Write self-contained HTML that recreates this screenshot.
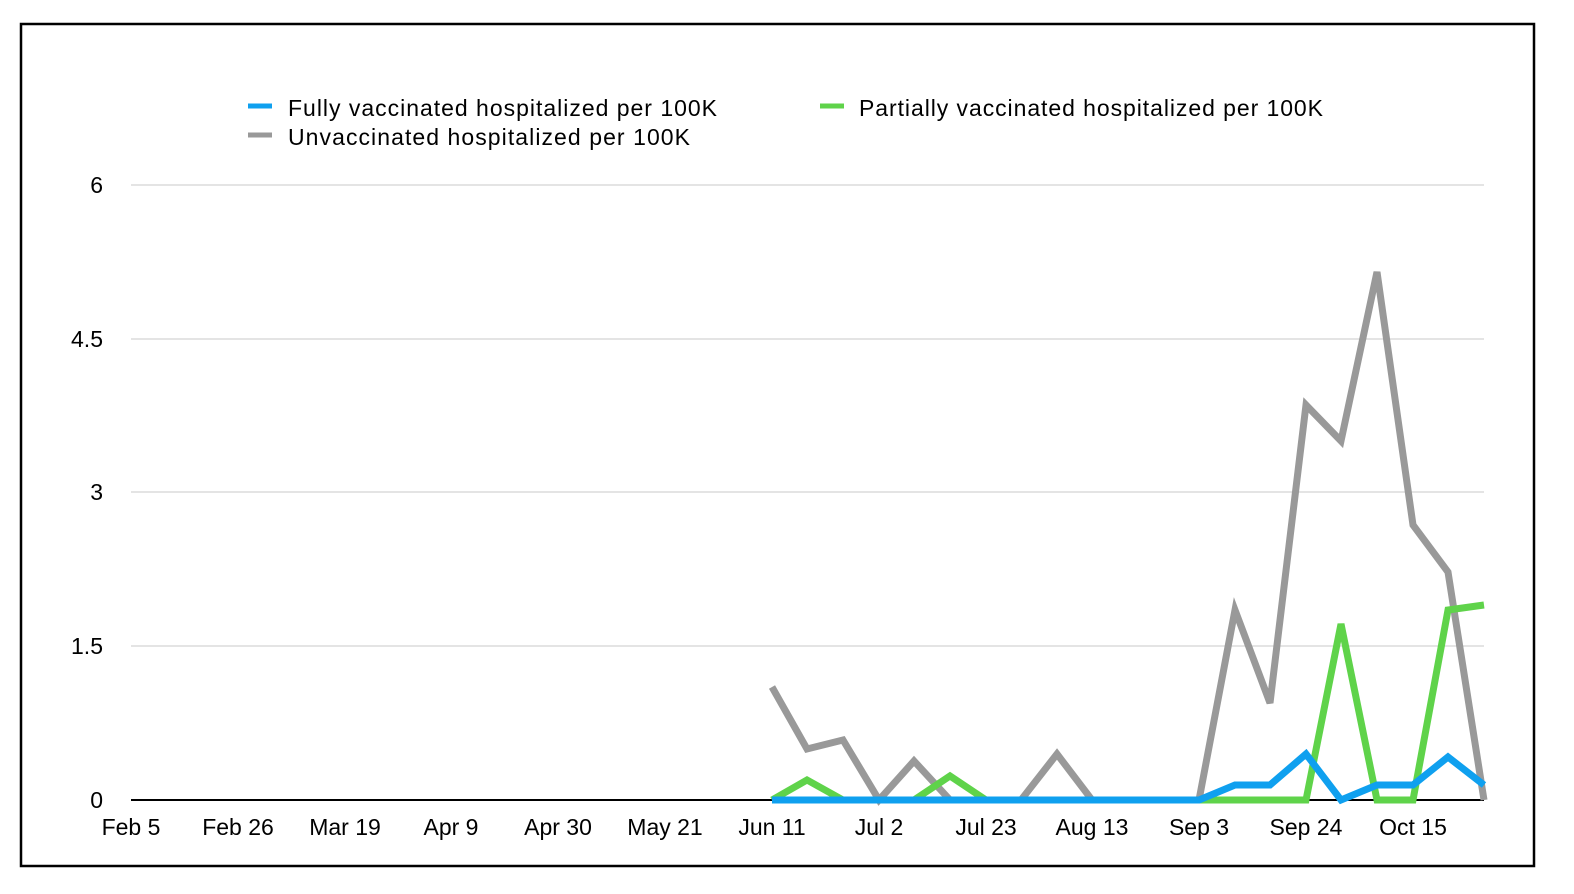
<!DOCTYPE html>
<html><head><meta charset="utf-8"><style>
html,body{margin:0;padding:0;background:#fff;}
svg{display:block;font-family:"Liberation Sans",Arial,sans-serif;}
</style></head><body>
<svg width="1574" height="894" viewBox="0 0 1574 894">
<rect x="21" y="24" width="1513" height="842" fill="#fff" stroke="#000" stroke-width="2.5"/>
<g stroke="#c8c8c8" stroke-width="1">
<line x1="131" y1="185" x2="1484" y2="185"/>
<line x1="131" y1="339" x2="1484" y2="339"/>
<line x1="131" y1="492" x2="1484" y2="492"/>
<line x1="131" y1="646" x2="1484" y2="646"/>
</g>
<line x1="131" y1="800" x2="1484" y2="800" stroke="#000" stroke-width="2"/>
<g font-size="23" fill="#000" text-anchor="end">
<text x="103" y="193">6</text>
<text x="103" y="347">4.5</text>
<text x="103" y="500">3</text>
<text x="103" y="654">1.5</text>
<text x="103" y="808">0</text>
</g>
<g font-size="23" fill="#000" text-anchor="middle">
<text x="131" y="835">Feb 5</text>
<text x="238" y="835">Feb 26</text>
<text x="345" y="835">Mar 19</text>
<text x="451" y="835">Apr 9</text>
<text x="558" y="835">Apr 30</text>
<text x="665" y="835">May 21</text>
<text x="772" y="835">Jun 11</text>
<text x="879" y="835">Jul 2</text>
<text x="986" y="835">Jul 23</text>
<text x="1092" y="835">Aug 13</text>
<text x="1199" y="835">Sep 3</text>
<text x="1306" y="835">Sep 24</text>
<text x="1413" y="835">Oct 15</text>
</g>
<g fill="none" stroke-width="7" stroke-linejoin="miter">
<polyline stroke="#999999" points="772,687 807,749 843,740 879,800 914,761 950,800 986,800 1021,800 1057,754 1092,800 1128,800 1163,800 1199,800 1235,610 1270,703 1306,405 1341,441 1377,272 1413,525 1448,572 1484,800"/>
<polyline stroke="#5fd34a" points="772,800 807,780 843,800 879,800 914,800 950,776 986,800 1021,800 1057,800 1092,800 1128,800 1163,800 1199,800 1235,800 1270,800 1306,800 1341,624 1377,800 1413,800 1448,610 1484,605"/>
<polyline stroke="#0fa0ef" points="772,800 807,800 843,800 879,800 914,800 950,800 986,800 1021,800 1057,800 1092,800 1128,800 1163,800 1199,800 1235,785 1270,785 1306,754 1341,800 1377,785 1413,785 1448,757 1484,785"/>
</g>
<g font-size="23" fill="#000">
<line x1="248" y1="106" x2="272" y2="106" stroke="#0fa0ef" stroke-width="5"/>
<text x="288" y="116" textLength="429" lengthAdjust="spacing">Fully vaccinated hospitalized per 100K</text>
<line x1="820" y1="106" x2="844" y2="106" stroke="#5fd34a" stroke-width="5"/>
<text x="859" y="116" textLength="464" lengthAdjust="spacing">Partially vaccinated hospitalized per 100K</text>
<line x1="248" y1="135" x2="272" y2="135" stroke="#999999" stroke-width="5"/>
<text x="288" y="145" textLength="402" lengthAdjust="spacing">Unvaccinated hospitalized per 100K</text>
</g>
</svg>
</body></html>
